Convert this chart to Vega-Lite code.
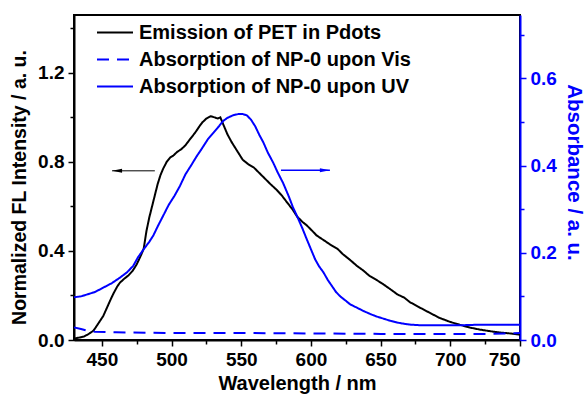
{
  "$schema": "https://vega.github.io/schema/vega-lite/v6.json",
  "width": 446,
  "height": 325,
  "autosize": {"type": "none"},
  "padding": {"left": 74, "top": 15, "right": 67, "bottom": 56},
  "background": "white",
  "config": {
    "view": {"stroke": "#000000", "strokeWidth": 2},
    "font": "Liberation Sans, Arial, sans-serif",
    "axis": {
      "grid": false,
      "labelFontSize": 19,
      "labelFontWeight": "bold",
      "labelColor": "black",
      "titleFontSize": 20,
      "titleFontWeight": "bold",
      "titleColor": "black",
      "domainColor": "black",
      "domainWidth": 2,
      "tickColor": "black",
      "tickWidth": 1.5,
      "labelPadding": 4
    },
    "legend": {
      "labelFontSize": 20,
      "labelFontWeight": "bold",
      "labelColor": "black",
      "labelLimit": 500,
      "symbolType": "stroke",
      "symbolSize": 1296,
      "symbolStrokeWidth": 2,
      "labelOffset": 5,
      "rowPadding": 0,
      "clipHeight": 27,
      "padding": 0
    }
  },
  "datasets": {
    "emission": [
      {"series": "Emission of PET in Pdots", "wl": 430, "v": 0.006},
      {"series": "Emission of PET in Pdots", "wl": 433, "v": 0.01},
      {"series": "Emission of PET in Pdots", "wl": 437, "v": 0.015},
      {"series": "Emission of PET in Pdots", "wl": 440, "v": 0.025},
      {"series": "Emission of PET in Pdots", "wl": 444, "v": 0.042},
      {"series": "Emission of PET in Pdots", "wl": 447, "v": 0.07},
      {"series": "Emission of PET in Pdots", "wl": 451, "v": 0.108},
      {"series": "Emission of PET in Pdots", "wl": 454, "v": 0.15},
      {"series": "Emission of PET in Pdots", "wl": 456, "v": 0.178},
      {"series": "Emission of PET in Pdots", "wl": 458, "v": 0.205},
      {"series": "Emission of PET in Pdots", "wl": 461, "v": 0.24},
      {"series": "Emission of PET in Pdots", "wl": 463, "v": 0.258},
      {"series": "Emission of PET in Pdots", "wl": 466, "v": 0.275},
      {"series": "Emission of PET in Pdots", "wl": 469, "v": 0.29},
      {"series": "Emission of PET in Pdots", "wl": 472, "v": 0.31},
      {"series": "Emission of PET in Pdots", "wl": 475, "v": 0.34},
      {"series": "Emission of PET in Pdots", "wl": 478, "v": 0.38},
      {"series": "Emission of PET in Pdots", "wl": 480, "v": 0.41},
      {"series": "Emission of PET in Pdots", "wl": 482, "v": 0.49},
      {"series": "Emission of PET in Pdots", "wl": 484, "v": 0.55},
      {"series": "Emission of PET in Pdots", "wl": 486, "v": 0.6},
      {"series": "Emission of PET in Pdots", "wl": 488, "v": 0.65},
      {"series": "Emission of PET in Pdots", "wl": 490, "v": 0.7},
      {"series": "Emission of PET in Pdots", "wl": 492, "v": 0.74},
      {"series": "Emission of PET in Pdots", "wl": 494, "v": 0.77},
      {"series": "Emission of PET in Pdots", "wl": 496.5, "v": 0.8},
      {"series": "Emission of PET in Pdots", "wl": 499, "v": 0.82},
      {"series": "Emission of PET in Pdots", "wl": 501, "v": 0.827},
      {"series": "Emission of PET in Pdots", "wl": 504, "v": 0.845},
      {"series": "Emission of PET in Pdots", "wl": 507, "v": 0.857},
      {"series": "Emission of PET in Pdots", "wl": 510, "v": 0.875},
      {"series": "Emission of PET in Pdots", "wl": 513, "v": 0.9},
      {"series": "Emission of PET in Pdots", "wl": 517, "v": 0.932},
      {"series": "Emission of PET in Pdots", "wl": 520, "v": 0.96},
      {"series": "Emission of PET in Pdots", "wl": 522, "v": 0.977},
      {"series": "Emission of PET in Pdots", "wl": 525, "v": 0.995},
      {"series": "Emission of PET in Pdots", "wl": 528, "v": 1.005},
      {"series": "Emission of PET in Pdots", "wl": 531, "v": 1.0},
      {"series": "Emission of PET in Pdots", "wl": 533, "v": 0.995},
      {"series": "Emission of PET in Pdots", "wl": 535, "v": 1.0},
      {"series": "Emission of PET in Pdots", "wl": 537, "v": 0.97},
      {"series": "Emission of PET in Pdots", "wl": 540, "v": 0.925},
      {"series": "Emission of PET in Pdots", "wl": 543, "v": 0.89},
      {"series": "Emission of PET in Pdots", "wl": 547, "v": 0.85},
      {"series": "Emission of PET in Pdots", "wl": 551, "v": 0.81},
      {"series": "Emission of PET in Pdots", "wl": 555, "v": 0.79},
      {"series": "Emission of PET in Pdots", "wl": 559, "v": 0.775},
      {"series": "Emission of PET in Pdots", "wl": 563, "v": 0.75},
      {"series": "Emission of PET in Pdots", "wl": 567, "v": 0.725},
      {"series": "Emission of PET in Pdots", "wl": 571, "v": 0.7},
      {"series": "Emission of PET in Pdots", "wl": 575, "v": 0.677},
      {"series": "Emission of PET in Pdots", "wl": 579, "v": 0.65},
      {"series": "Emission of PET in Pdots", "wl": 583, "v": 0.617},
      {"series": "Emission of PET in Pdots", "wl": 587, "v": 0.585},
      {"series": "Emission of PET in Pdots", "wl": 590, "v": 0.555},
      {"series": "Emission of PET in Pdots", "wl": 594, "v": 0.53},
      {"series": "Emission of PET in Pdots", "wl": 597, "v": 0.515},
      {"series": "Emission of PET in Pdots", "wl": 601, "v": 0.49},
      {"series": "Emission of PET in Pdots", "wl": 604, "v": 0.47},
      {"series": "Emission of PET in Pdots", "wl": 610, "v": 0.445},
      {"series": "Emission of PET in Pdots", "wl": 614, "v": 0.428},
      {"series": "Emission of PET in Pdots", "wl": 619, "v": 0.41},
      {"series": "Emission of PET in Pdots", "wl": 623, "v": 0.385},
      {"series": "Emission of PET in Pdots", "wl": 628, "v": 0.36},
      {"series": "Emission of PET in Pdots", "wl": 633, "v": 0.333},
      {"series": "Emission of PET in Pdots", "wl": 638, "v": 0.31},
      {"series": "Emission of PET in Pdots", "wl": 642, "v": 0.288},
      {"series": "Emission of PET in Pdots", "wl": 647, "v": 0.27},
      {"series": "Emission of PET in Pdots", "wl": 652, "v": 0.25},
      {"series": "Emission of PET in Pdots", "wl": 657, "v": 0.228},
      {"series": "Emission of PET in Pdots", "wl": 662, "v": 0.205},
      {"series": "Emission of PET in Pdots", "wl": 667, "v": 0.19},
      {"series": "Emission of PET in Pdots", "wl": 671, "v": 0.17},
      {"series": "Emission of PET in Pdots", "wl": 678, "v": 0.146},
      {"series": "Emission of PET in Pdots", "wl": 685, "v": 0.123},
      {"series": "Emission of PET in Pdots", "wl": 692, "v": 0.1},
      {"series": "Emission of PET in Pdots", "wl": 700, "v": 0.081},
      {"series": "Emission of PET in Pdots", "wl": 707, "v": 0.068},
      {"series": "Emission of PET in Pdots", "wl": 714, "v": 0.056},
      {"series": "Emission of PET in Pdots", "wl": 721, "v": 0.047},
      {"series": "Emission of PET in Pdots", "wl": 728, "v": 0.04},
      {"series": "Emission of PET in Pdots", "wl": 735, "v": 0.034},
      {"series": "Emission of PET in Pdots", "wl": 742, "v": 0.03},
      {"series": "Emission of PET in Pdots", "wl": 750, "v": 0.024}
    ],
    "absorption": [
      {"series": "Absorption of NP-0 upon Vis", "wl": 430, "v": 0.029},
      {"series": "Absorption of NP-0 upon Vis", "wl": 435, "v": 0.025},
      {"series": "Absorption of NP-0 upon Vis", "wl": 440, "v": 0.021},
      {"series": "Absorption of NP-0 upon Vis", "wl": 445, "v": 0.019},
      {"series": "Absorption of NP-0 upon Vis", "wl": 460, "v": 0.0175},
      {"series": "Absorption of NP-0 upon Vis", "wl": 500, "v": 0.016},
      {"series": "Absorption of NP-0 upon Vis", "wl": 550, "v": 0.016},
      {"series": "Absorption of NP-0 upon Vis", "wl": 600, "v": 0.015},
      {"series": "Absorption of NP-0 upon Vis", "wl": 650, "v": 0.014},
      {"series": "Absorption of NP-0 upon Vis", "wl": 700, "v": 0.0135},
      {"series": "Absorption of NP-0 upon Vis", "wl": 730, "v": 0.014},
      {"series": "Absorption of NP-0 upon Vis", "wl": 750, "v": 0.016},
      {"series": "Absorption of NP-0 upon UV", "wl": 430, "v": 0.098},
      {"series": "Absorption of NP-0 upon UV", "wl": 435, "v": 0.1},
      {"series": "Absorption of NP-0 upon UV", "wl": 440, "v": 0.105},
      {"series": "Absorption of NP-0 upon UV", "wl": 445, "v": 0.11},
      {"series": "Absorption of NP-0 upon UV", "wl": 451, "v": 0.12},
      {"series": "Absorption of NP-0 upon UV", "wl": 457, "v": 0.13},
      {"series": "Absorption of NP-0 upon UV", "wl": 463, "v": 0.143},
      {"series": "Absorption of NP-0 upon UV", "wl": 468, "v": 0.155},
      {"series": "Absorption of NP-0 upon UV", "wl": 472.5, "v": 0.17},
      {"series": "Absorption of NP-0 upon UV", "wl": 476, "v": 0.19},
      {"series": "Absorption of NP-0 upon UV", "wl": 480, "v": 0.208},
      {"series": "Absorption of NP-0 upon UV", "wl": 484, "v": 0.225},
      {"series": "Absorption of NP-0 upon UV", "wl": 487, "v": 0.24},
      {"series": "Absorption of NP-0 upon UV", "wl": 490, "v": 0.26},
      {"series": "Absorption of NP-0 upon UV", "wl": 494, "v": 0.285},
      {"series": "Absorption of NP-0 upon UV", "wl": 498, "v": 0.31},
      {"series": "Absorption of NP-0 upon UV", "wl": 502, "v": 0.33},
      {"series": "Absorption of NP-0 upon UV", "wl": 506, "v": 0.353},
      {"series": "Absorption of NP-0 upon UV", "wl": 510, "v": 0.38},
      {"series": "Absorption of NP-0 upon UV", "wl": 514, "v": 0.4},
      {"series": "Absorption of NP-0 upon UV", "wl": 518, "v": 0.421},
      {"series": "Absorption of NP-0 upon UV", "wl": 522, "v": 0.44},
      {"series": "Absorption of NP-0 upon UV", "wl": 526, "v": 0.46},
      {"series": "Absorption of NP-0 upon UV", "wl": 530, "v": 0.475},
      {"series": "Absorption of NP-0 upon UV", "wl": 534, "v": 0.49},
      {"series": "Absorption of NP-0 upon UV", "wl": 537, "v": 0.502},
      {"series": "Absorption of NP-0 upon UV", "wl": 540, "v": 0.509},
      {"series": "Absorption of NP-0 upon UV", "wl": 544, "v": 0.515},
      {"series": "Absorption of NP-0 upon UV", "wl": 548, "v": 0.518},
      {"series": "Absorption of NP-0 upon UV", "wl": 551, "v": 0.518},
      {"series": "Absorption of NP-0 upon UV", "wl": 554, "v": 0.515},
      {"series": "Absorption of NP-0 upon UV", "wl": 557, "v": 0.505},
      {"series": "Absorption of NP-0 upon UV", "wl": 560, "v": 0.49},
      {"series": "Absorption of NP-0 upon UV", "wl": 563, "v": 0.47},
      {"series": "Absorption of NP-0 upon UV", "wl": 566, "v": 0.452},
      {"series": "Absorption of NP-0 upon UV", "wl": 569, "v": 0.43},
      {"series": "Absorption of NP-0 upon UV", "wl": 573, "v": 0.406},
      {"series": "Absorption of NP-0 upon UV", "wl": 576, "v": 0.385},
      {"series": "Absorption of NP-0 upon UV", "wl": 580, "v": 0.36},
      {"series": "Absorption of NP-0 upon UV", "wl": 584, "v": 0.33},
      {"series": "Absorption of NP-0 upon UV", "wl": 587, "v": 0.305},
      {"series": "Absorption of NP-0 upon UV", "wl": 591, "v": 0.277},
      {"series": "Absorption of NP-0 upon UV", "wl": 594, "v": 0.255},
      {"series": "Absorption of NP-0 upon UV", "wl": 597, "v": 0.231},
      {"series": "Absorption of NP-0 upon UV", "wl": 600, "v": 0.208},
      {"series": "Absorption of NP-0 upon UV", "wl": 603, "v": 0.185},
      {"series": "Absorption of NP-0 upon UV", "wl": 606, "v": 0.168},
      {"series": "Absorption of NP-0 upon UV", "wl": 609, "v": 0.155},
      {"series": "Absorption of NP-0 upon UV", "wl": 612, "v": 0.138},
      {"series": "Absorption of NP-0 upon UV", "wl": 615, "v": 0.124},
      {"series": "Absorption of NP-0 upon UV", "wl": 618, "v": 0.11},
      {"series": "Absorption of NP-0 upon UV", "wl": 621, "v": 0.1},
      {"series": "Absorption of NP-0 upon UV", "wl": 625, "v": 0.09},
      {"series": "Absorption of NP-0 upon UV", "wl": 628, "v": 0.082},
      {"series": "Absorption of NP-0 upon UV", "wl": 633, "v": 0.074},
      {"series": "Absorption of NP-0 upon UV", "wl": 638, "v": 0.066},
      {"series": "Absorption of NP-0 upon UV", "wl": 643, "v": 0.059},
      {"series": "Absorption of NP-0 upon UV", "wl": 647, "v": 0.054},
      {"series": "Absorption of NP-0 upon UV", "wl": 652, "v": 0.049},
      {"series": "Absorption of NP-0 upon UV", "wl": 657, "v": 0.044},
      {"series": "Absorption of NP-0 upon UV", "wl": 662, "v": 0.04},
      {"series": "Absorption of NP-0 upon UV", "wl": 667, "v": 0.037},
      {"series": "Absorption of NP-0 upon UV", "wl": 672, "v": 0.035},
      {"series": "Absorption of NP-0 upon UV", "wl": 678, "v": 0.034},
      {"series": "Absorption of NP-0 upon UV", "wl": 690, "v": 0.034},
      {"series": "Absorption of NP-0 upon UV", "wl": 700, "v": 0.034},
      {"series": "Absorption of NP-0 upon UV", "wl": 710, "v": 0.034},
      {"series": "Absorption of NP-0 upon UV", "wl": 720, "v": 0.035},
      {"series": "Absorption of NP-0 upon UV", "wl": 730, "v": 0.035},
      {"series": "Absorption of NP-0 upon UV", "wl": 740, "v": 0.035},
      {"series": "Absorption of NP-0 upon UV", "wl": 750, "v": 0.035}
    ],
    "arrows": [
      {"arrow": "left", "part": "head", "wl": 457.3, "v": 0.76},
      {"arrow": "left", "part": "tail", "wl": 488, "v": 0.76},
      {"arrow": "right", "part": "tail", "wl": 578.5, "v": 0.389},
      {"arrow": "right", "part": "head", "wl": 613.6, "v": 0.389}
    ]
  },
  "encoding": {
    "x": {"field": "wl", "type": "quantitative",
      "scale": {"domain": [430, 750], "nice": false, "zero": false},
      "axis": {"orient": "bottom", "values": [450, 475, 500, 525, 550, 575, 600, 625, 650, 675, 700, 725, 750],
        "labelExpr": "datum.value % 50 === 0 ? datum.label : ''",
        "tickSize": {"condition": {"test": "datum.value % 50 === 0", "value": 6}, "value": 4},
        "title": "Wavelength / nm", "titlePadding": 4}}
  },
  "layer": [
    {
      "data": {"name": "emission"},
      "mark": {"type": "line", "strokeWidth": 2},
      "encoding": {
        "y": {"field": "v", "type": "quantitative",
          "scale": {"domain": [0, 1.46], "nice": false, "zero": false},
          "axis": {"orient": "left", "values": [0, 0.2, 0.4, 0.6, 0.8, 1.0, 1.2, 1.4], "format": ".1f",
            "labelExpr": "round(datum.value * 10) % 4 === 0 ? datum.label : ''",
            "tickSize": {"condition": {"test": "round(datum.value * 10) % 4 === 0", "value": 6}, "value": 4},
            "title": "Normalized FL Intensity / a. u.", "titleFontSize": 19.5, "titlePadding": 8, "titleY": 172}},
        "color": {"field": "series", "type": "nominal",
          "scale": {"domain": ["Emission of PET in Pdots", "Absorption of NP-0 upon Vis", "Absorption of NP-0 upon UV"], "range": ["#000000", "#0000ff", "#0000ff"]},
          "legend": {"orient": "none", "legendX": 22, "legendY": 4, "title": null}},
        "strokeDash": {"field": "series", "type": "nominal",
          "scale": {"domain": ["Emission of PET in Pdots", "Absorption of NP-0 upon Vis", "Absorption of NP-0 upon UV"], "range": [[1, 0], [12, 8], [1, 0]]},
          "legend": {"orient": "none", "legendX": 22, "legendY": 4, "title": null}}
      }
    },
    {
      "data": {"name": "absorption"},
      "mark": {"type": "line", "strokeWidth": 2},
      "encoding": {
        "y": {"field": "v", "type": "quantitative",
          "scale": {"domain": [0, 0.745], "nice": false, "zero": false},
          "axis": {"orient": "right", "values": [0, 0.1, 0.2, 0.3, 0.4, 0.5, 0.6, 0.7], "format": ".1f",
            "labelExpr": "round(datum.value * 10) % 2 === 0 ? datum.label : ''",
            "tickSize": {"condition": {"test": "round(datum.value * 10) % 2 === 0", "value": 6}, "value": 4},
            "title": "Absorbance / a. u.", "titlePadding": 7, "titleFontSize": 20.5, "titleY": 157,
            "domainColor": "#0000ff", "tickColor": "#0000ff", "labelColor": "#0000ff", "titleColor": "#0000ff"}},
        "color": {"field": "series", "type": "nominal",
          "scale": {"domain": ["Emission of PET in Pdots", "Absorption of NP-0 upon Vis", "Absorption of NP-0 upon UV"], "range": ["#000000", "#0000ff", "#0000ff"]},
          "legend": {"orient": "none", "legendX": 22, "legendY": 4, "title": null}},
        "strokeDash": {"field": "series", "type": "nominal",
          "scale": {"domain": ["Emission of PET in Pdots", "Absorption of NP-0 upon Vis", "Absorption of NP-0 upon UV"], "range": [[1, 0], [12, 8], [1, 0]]},
          "legend": {"orient": "none", "legendX": 22, "legendY": 4, "title": null}}
      }
    },
    {
      "data": {"name": "arrows"},
      "transform": [{"filter": "datum.arrow === 'left'"}],
      "mark": {"type": "line", "strokeWidth": 1, "color": "#000000"},
      "encoding": {
        "y": {"field": "v", "type": "quantitative", "scale": {"domain": [0, 1.46], "nice": false, "zero": false}, "axis": null}
      }
    },
    {
      "data": {"name": "arrows"},
      "transform": [{"filter": "datum.arrow === 'left' && datum.part === 'head'"}],
      "mark": {"type": "point", "filled": true, "opacity": 1, "color": "#000000", "size": 100, "shape": "M0,0L2,-0.4L2,0.4Z"},
      "encoding": {
        "y": {"field": "v", "type": "quantitative", "scale": {"domain": [0, 1.46], "nice": false, "zero": false}, "axis": null}
      }
    },
    {
      "data": {"name": "arrows"},
      "transform": [{"filter": "datum.arrow === 'right'"}],
      "mark": {"type": "line", "strokeWidth": 1.5, "color": "#0000ff"},
      "encoding": {
        "y": {"field": "v", "type": "quantitative", "scale": {"domain": [0, 0.745], "nice": false, "zero": false}, "axis": null}
      }
    },
    {
      "data": {"name": "arrows"},
      "transform": [{"filter": "datum.arrow === 'right' && datum.part === 'head'"}],
      "mark": {"type": "point", "filled": true, "opacity": 1, "color": "#0000ff", "size": 100, "shape": "M0,0L-2,-0.4L-2,0.4Z"},
      "encoding": {
        "y": {"field": "v", "type": "quantitative", "scale": {"domain": [0, 0.745], "nice": false, "zero": false}, "axis": null}
      }
    }
  ],
  "resolve": {
    "scale": {"y": "independent"}
  }
}
